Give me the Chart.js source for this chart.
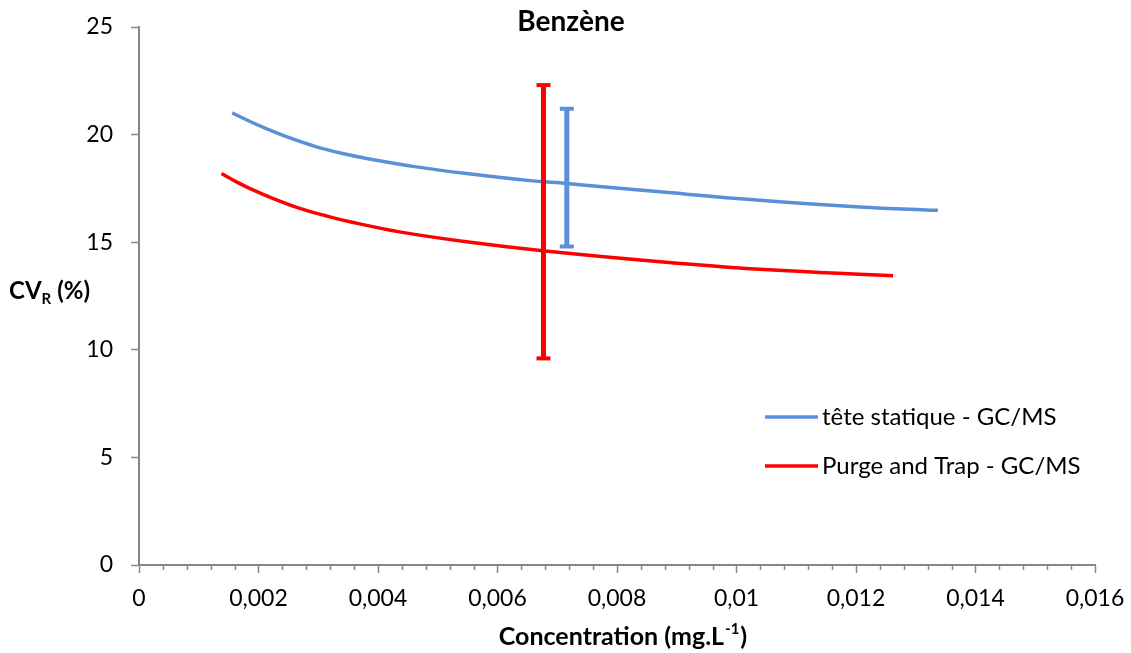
<!DOCTYPE html>
<html>
<head>
<meta charset="utf-8">
<title>Benzène</title>
<script src="https://cdn.jsdelivr.net/npm/chart.js@4"></script>
<style>
	html, body { margin: 0; padding: 0; background: #fff; }
	#wrap { width: 1131px; height: 653px; }
</style>
</head>
<body>
<div id="wrap"><canvas id="cvChart" width="1131" height="653"></canvas></div>
<script>
// concentration (mg/L) and CV_R (%)
const seriesNames = ["tête statique - GC/MS", "Purge and Trap - GC/MS"];
const seriesColors = ["#5b8fd6", "#ff0000"];

const teteX = [0.00156, 0.00185, 0.00213, 0.00255, 0.00297, 0.00339, 0.00381, 0.00464, 0.00548, 0.00659, 0.00715, 0.00872, 0.01039, 0.01206, 0.01337];
const teteY = [21.01, 20.62, 20.28, 19.82, 19.43, 19.13, 18.89, 18.50, 18.19, 17.85, 17.73, 17.34, 16.95, 16.64, 16.48];

const purgeX = [0.00138, 0.00162, 0.00185, 0.00227, 0.00269, 0.00311, 0.00353, 0.00436, 0.00548, 0.00676, 0.00872, 0.01039, 0.01262];
const purgeY = [18.19, 17.82, 17.50, 17.00, 16.57, 16.24, 15.95, 15.48, 15.02, 14.60, 14.09, 13.74, 13.44];

// error bars: [x, low, high]
const teteErr = [0.00716, 14.8, 21.2];
const purgeErr = [0.00677, 9.6, 22.3];

const xTicks = [0, 0.002, 0.004, 0.006, 0.008, 0.01, 0.012, 0.014, 0.016];
const xMinorStep = 0.0004;
const yTicks = [0, 5, 10, 15, 20, 25];

const axisGrey = "#868686";
const fontFamily = "Lato, 'Open Sans', sans-serif";

function pts(xs, ys) {
	return xs.map((x, i) => ({ x: x, y: ys[i] }));
}
function errPts(e) {
	return [{ x: e[0], y: e[1] }, { x: e[0], y: e[2] }];
}
function fmt(v) {
	return String(Number(v.toFixed(4))).replace(".", ",");
}

function curve(label, data, color) {
	return {
		label: label,
		data: data,
		showLine: true,
		borderColor: color,
		backgroundColor: color,
		borderWidth: 3.5,
		pointRadius: 0,
		tension: 0.4,
		order: 2,
	};
}
function errBar(data, color) {
	return {
		label: "",
		data: data,
		showLine: true,
		borderColor: color,
		backgroundColor: color,
		borderWidth: 5,
		pointStyle: "line",
		pointRadius: 7,
		pointBorderWidth: 4,
		pointBorderColor: color,
		order: 1,
	};
}

// title, axis titles, minor ticks and the inline legend
const decorations = {
	id: "decorations",
	afterDraw(chart) {
		const c = chart.ctx;
		const xs = chart.scales.x;
		const ys = chart.scales.y;
		c.save();

		// minor ticks on the x axis
		c.strokeStyle = axisGrey;
		c.lineWidth = 1.5;
		const y0 = ys.getPixelForValue(0);
		for (let v = xMinorStep; v < 0.016; v += xMinorStep) {
			const r = v / 0.002;
			if (Math.abs(r - Math.round(r)) < 1e-6) continue;
			const px = Math.round(xs.getPixelForValue(v)) + 0.5;
			c.beginPath();
			c.moveTo(px, y0);
			c.lineTo(px, y0 + 5);
			c.stroke();
		}

		c.fillStyle = "#000";
		c.textBaseline = "middle";

		// chart title
		c.font = "bold 28px " + fontFamily;
		c.textAlign = "center";
		c.fillText("Benzène", 571, 22);

		// x axis title with superscript
		c.font = "bold 25px " + fontFamily;
		const xt1 = "Concentration (mg.L";
		const sup = "-1";
		const xt2 = ")";
		c.textAlign = "left";
		const w1 = c.measureText(xt1).width;
		const w3 = c.measureText(xt2).width;
		c.font = "bold 15px " + fontFamily;
		const w2 = c.measureText(sup).width;
		let xx = 622 - (w1 + w2 + w3) / 2;
		c.font = "bold 25px " + fontFamily;
		c.fillText(xt1, xx, 637);
		c.font = "bold 15px " + fontFamily;
		c.fillText(sup, xx + w1 + 1, 629);
		c.font = "bold 25px " + fontFamily;
		c.fillText(xt2, xx + w1 + w2 + 2, 637);

		// y axis title with subscript
		let yx = 9;
		c.font = "bold 24px " + fontFamily;
		c.fillText("CV", yx, 291);
		yx += c.measureText("CV").width;
		c.font = "bold 15px " + fontFamily;
		c.fillText("R", yx, 299);
		yx += c.measureText("R").width + 2;
		c.font = "bold 24px " + fontFamily;
		c.fillText("(%)", yx + 4, 291);

		// legend
		c.font = "24px " + fontFamily;
		const legY = [417, 466];
		for (let i = 0; i < seriesNames.length; i++) {
			c.strokeStyle = seriesColors[i];
			c.lineWidth = 3.5;
			c.beginPath();
			c.moveTo(765, legY[i]);
			c.lineTo(818, legY[i]);
			c.stroke();
			c.fillText(seriesNames[i], 822, legY[i]);
		}
		c.restore();
	},
};

const ctx = document.getElementById("cvChart");
const cvChart = new Chart(ctx, {
	type: "scatter",
	data: {
		datasets: [
			curve(seriesNames[0], pts(teteX, teteY), seriesColors[0]),
			curve(seriesNames[1], pts(purgeX, purgeY), seriesColors[1]),
			errBar(errPts(purgeErr), seriesColors[1]),
			errBar(errPts(teteErr), seriesColors[0]),
		],
	},
	options: {
		responsive: false,
		animation: false,
		layout: {
			padding: { left: 0, top: 27, right: 36, bottom: 0 },
		},
		plugins: {
			legend: { display: false },
			title: { display: false },
			tooltip: { enabled: false },
		},
		scales: {
			x: {
				type: "linear",
				min: 0,
				max: 0.016,
				afterBuildTicks: (s) => {
					s.ticks = xTicks.map((v) => ({ value: v }));
				},
				afterFit: (s) => {
					s.height = 88;
					s.paddingLeft = 0;
					s.paddingRight = 0;
				},
				border: { color: axisGrey, width: 2 },
				grid: {
					drawOnChartArea: false,
					tickLength: 8,
					tickColor: axisGrey,
					tickWidth: 1.5,
				},
				ticks: {
					autoSkip: false,
					maxRotation: 0,
					padding: 12,
					color: "#000",
					font: { family: fontFamily, size: 23 },
					callback: (v) => fmt(v),
				},
			},
			y: {
				min: 0,
				max: 25,
				afterBuildTicks: (s) => {
					s.ticks = yTicks.map((v) => ({ value: v }));
				},
				afterFit: (s) => {
					s.width = 139;
					s.paddingTop = 0;
					s.paddingBottom = 0;
				},
				border: { color: axisGrey, width: 2 },
				grid: {
					drawOnChartArea: false,
					tickLength: 8,
					tickColor: axisGrey,
					tickWidth: 1.5,
				},
				ticks: {
					padding: 18,
					color: "#000",
					font: { family: fontFamily, size: 23 },
				},
			},
		},
	},
	plugins: [decorations],
});
</script>
</body>
</html>
